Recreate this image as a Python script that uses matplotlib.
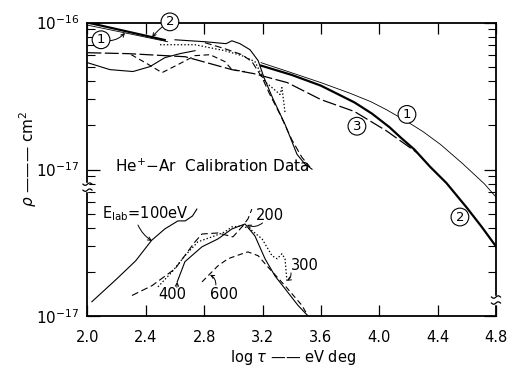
import matplotlib
matplotlib.use("Agg")
import matplotlib.pyplot as plt
import numpy as np
from matplotlib.ticker import FixedLocator, FixedFormatter, LogLocator, NullFormatter
from matplotlib.transforms import ScaledTranslation

plt.rcParams['font.family'] = ['DejaVu Sans']
plt.rcParams['mathtext.default'] = 'regular'
plt.rcParams['lines.scale_dashes'] = False

E17 = 1e-17  # all rho values below are in units of 1e-17 cm^2

# --- theory curves (upper scale) ---
th1_left_x = [2.0, 2.55]
th1_left_y = [9.6, 7.4]
th1_right_x = [3.19, 3.40, 3.60, 3.80, 3.94, 4.05, 4.19, 4.30, 4.42, 4.57, 4.72, 4.80]
th1_right_y = [5.33, 4.55, 3.90, 3.30, 2.90, 2.55, 2.12, 1.81, 1.48, 1.10, 0.80, 0.65]
th2_left_x = [2.0, 2.53]
th2_left_y = [10.0, 7.6]
th2_right_x = [3.19, 3.40, 3.60, 3.83, 3.95, 4.07, 4.15, 4.24, 4.35, 4.46, 4.60, 4.70, 4.80]
th2_right_y = [5.09, 4.40, 3.72, 2.86, 2.40, 1.94, 1.64, 1.37, 1.04, 0.81, 0.55, 0.41, 0.30]
th3_x = [2.0, 2.28, 2.67, 2.99, 3.14, 3.37, 3.60, 3.83, 4.05, 4.26]
th3_y = [6.23, 6.14, 5.85, 4.78, 4.49, 3.90, 2.99, 2.48, 1.83, 1.30]

# --- calibration data, upper scale ---
ca_x = [2.0, 2.154, 2.312, 2.428, 2.531, 2.634, 2.737]
ca_y = [5.33, 4.78, 4.64, 5.01, 5.77, 6.14, 6.43]
cb_x = [2.30, 2.408, 2.511, 2.62, 2.737, 2.84, 2.942, 2.99, 3.08]
cb_y = [6.04, 5.25, 4.56, 5.17, 5.95, 6.04, 5.42, 4.78, 4.64]
cc_x = [2.497, 2.737, 2.942, 3.059, 3.148, 3.217, 3.32, 3.333, 3.354]
cc_y = [7.06, 7.06, 6.43, 5.95, 5.42, 3.96, 3.24, 3.61, 2.45]
cd_x = [2.60, 2.805, 2.95, 2.99, 3.045, 3.114, 3.17, 3.21, 3.27, 3.354, 3.436, 3.49, 3.539]
cd_y = [7.63, 7.40, 7.18, 7.51, 7.18, 6.53, 5.50, 4.22, 3.05, 2.03, 1.27, 1.09, 1.005]
ce_x = [2.805, 2.942, 3.059, 3.127, 3.197, 3.25, 3.32, 3.40, 3.47, 3.525]
ce_y = [7.29, 6.63, 6.04, 5.42, 4.22, 3.24, 2.37, 1.60, 1.21, 1.04]

# --- calibration data, lower scale (E_lab curves) ---
e100_x = [2.03, 2.20, 2.33, 2.44, 2.53, 2.62, 2.67, 2.72, 2.75]
e100_y = [1.26, 1.80, 2.39, 3.30, 3.94, 4.47, 4.47, 4.83, 5.38]
e200_x = [2.305, 2.442, 2.60, 2.737, 2.785, 2.894, 2.997, 3.059, 3.10, 3.127]
e200_y = [1.39, 1.62, 2.11, 3.22, 3.64, 3.70, 3.48, 4.07, 4.61, 5.38]
e300_x = [2.483, 2.579, 2.668, 2.757, 2.853, 2.942, 2.99, 3.059, 3.114, 3.197,
          3.265, 3.30, 3.333, 3.354, 3.367]
e300_y = [1.59, 2.01, 2.59, 3.22, 3.48, 3.76, 4.07, 4.13, 3.94, 3.37,
          2.59, 2.47, 2.67, 2.47, 1.75]
e400_x = [2.615, 2.668, 2.785, 2.894, 2.99, 3.08, 3.148, 3.217, 3.285, 3.354, 3.443, 3.511]
e400_y = [1.72, 2.36, 2.98, 3.37, 3.94, 4.26, 3.53, 2.47, 1.89, 1.545, 1.19, 1.01]
e600_x = [2.785, 2.894, 2.963, 3.059, 3.10, 3.17, 3.23, 3.354, 3.47, 3.511]
e600_y = [1.72, 2.21, 2.47, 2.67, 2.75, 2.59, 2.21, 1.62, 1.19, 1.01]

xticks = [2.0, 2.4, 2.8, 3.2, 3.6, 4.0, 4.4, 4.8]
xticklabels = ['2.0', '2.4', '2.8', '3.2', '3.6', '4.0', '4.4', '4.8']


def yv(vals):
    return np.array(vals) * E17


fig = plt.figure(figsize=(5.08, 3.69), dpi=100)
ax = fig.add_axes([0.1722, 0.1423, 0.8041, 0.7967])
ax.set_yscale('log')
ax.set_xlim(2.0, 4.8)
ax.set_ylim(1e-18, 1e-16)

# lower panel shares x, shifted by a decade
axl = ax.twinx()
axl.set_yscale('log')
axl.set_ylim(1e-17, 1e-15)
axl.axis('off')

k = 'black'
ax.plot(th1_left_x, yv(th1_left_y), color=k, lw=0.6)
ax.plot(th1_right_x, yv(th1_right_y), color=k, lw=0.6)
ax.plot(th2_left_x, yv(th2_left_y), color=k, lw=1.6)
ax.plot(th2_right_x, yv(th2_right_y), color=k, lw=1.6)
ax.plot(th3_x, yv(th3_y), color=k, lw=0.9, dashes=(10, 2.5))

ax.plot(ca_x, yv(ca_y), color=k, lw=0.8)
ax.plot(cb_x, yv(cb_y), color=k, lw=0.8, dashes=(4, 2.5))
ax.plot(cc_x, yv(cc_y), color=k, lw=0.9, dashes=(1, 1.5))
ax.plot(cd_x, yv(cd_y), color=k, lw=0.8)
ax.plot(ce_x, yv(ce_y), color=k, lw=0.8, dashes=(5, 2.5))

axl.plot(e100_x, yv(e100_y), color=k, lw=0.8)
axl.plot(e200_x, yv(e200_y), color=k, lw=0.8, dashes=(5, 2.5))
axl.plot(e300_x, yv(e300_y), color=k, lw=0.9, dashes=(1, 1.5))
axl.plot(e400_x, yv(e400_y), color=k, lw=0.8)
axl.plot(e600_x, yv(e600_y), color=k, lw=0.8, dashes=(4, 2.5))

# ticks
ax.set_xticks(xticks)
ax.set_xticklabels(xticklabels, fontsize=10.5)
ax.tick_params(axis='x', which='major', direction='in', length=8, width=0.9,
               top=True, pad=10)
ax.yaxis.set_major_locator(FixedLocator([1e-18, 1e-17, 1e-16]))
ax.yaxis.set_major_formatter(FixedFormatter(['$10^{-17}$', '$10^{-17}$', '$10^{-16}$']))
ax.yaxis.set_minor_locator(LogLocator(base=10, subs=np.arange(2, 10)))
ax.yaxis.set_minor_formatter(NullFormatter())
ax.tick_params(axis='y', which='major', direction='in', length=9, width=0.9,
               right=True, pad=6, labelsize=11)
ax.tick_params(axis='y', which='minor', direction='in', length=6, width=0.8,
               right=True)
for s in ax.spines.values():
    s.set_linewidth(1.3)


# axis breaks
def brk(xa, ya):
    tr = fig.dpi_scale_trans + ScaledTranslation(xa, ya, ax.transAxes)
    ax.plot([0, 0], [-0.03, 0.03], color='white', lw=2.5, transform=tr,
            clip_on=False, zorder=5)
    t = np.linspace(-1, 1, 21)
    for off in (-0.03, 0.03):
        ax.plot(t * 0.045, off + 0.012 * np.sin(np.pi * t), color=k, lw=0.9,
                transform=tr, clip_on=False, zorder=6)


brk(0.0, 0.44)
brk(1.0, 0.056)

# labels
ax.text(2.19, 1.05 * E17, 'He$^{+}$$-$Ar  Calibration Data', fontsize=11,
        va='center', ha='left')
axl.text(2.10, 4.98 * E17, 'E$_{lab}$=100eV', fontsize=10.5, va='center', ha='left')
axl.text(3.25, 4.83 * E17, '200', fontsize=10.5, va='center', ha='center')
axl.text(3.492, 2.21 * E17, '300', fontsize=10.5, va='center', ha='center')
axl.text(2.58, 1.41 * E17, '400', fontsize=10.5, va='center', ha='center')
axl.text(2.936, 1.41 * E17, '600', fontsize=10.5, va='center', ha='center')

arr = dict(arrowstyle='->', lw=0.7, color=k, shrinkA=0, shrinkB=0, mutation_scale=6)
axl.annotate('', xy=(2.442, 3.27 * E17), xytext=(2.346, 4.19 * E17),
             arrowprops=dict(arr, connectionstyle='arc3,rad=0.15'))
axl.annotate('', xy=(3.093, 4.20 * E17), xytext=(3.20, 4.33 * E17),
             arrowprops=dict(arr, connectionstyle='arc3,rad=-0.3'))
axl.annotate('', xy=(3.367, 1.75 * E17), xytext=(3.395, 1.98 * E17),
             arrowprops=dict(arr, connectionstyle='arc3,rad=-0.3'))
axl.annotate('', xy=(2.615, 1.72 * E17), xytext=(2.613, 1.58 * E17),
             arrowprops=arr)
axl.annotate('', xy=(2.84, 1.92 * E17), xytext=(2.88, 1.64 * E17),
             arrowprops=dict(arr, connectionstyle='arc3,rad=0.3'))

circ = dict(boxstyle='circle,pad=0.18', fc='white', ec=k, lw=0.8)
ax.annotate('1', xy=(2.257, 8.5 * E17), xytext=(2.093, 7.63 * E17), fontsize=9.5,
            ha='center', va='center', bbox=circ,
            arrowprops=dict(arr, connectionstyle='arc3,rad=0.3'))
ax.annotate('2', xy=(2.443, 7.95 * E17), xytext=(2.565, 10.1 * E17), fontsize=9.5,
            ha='center', va='center', bbox=circ, annotation_clip=False,
            arrowprops=dict(arr, connectionstyle='arc3,rad=0.1'))
ax.text(4.19, 2.37 * E17, '1', fontsize=9.5, ha='center', va='center', bbox=circ)
ax.text(3.847, 1.97 * E17, '3', fontsize=9.5, ha='center', va='center', bbox=circ)
ax.text(4.553, 0.475 * E17, '2', fontsize=9.5, ha='center', va='center', bbox=circ)

fig.text(0.577, 0.030, r'log $\it{\tau}$ —— eV deg', fontsize=10.5, ha='center',
         va='center')
fig.text(0.055, 0.57, r'$\it{\rho}$ ——— cm$^2$', fontsize=11, ha='center',
         va='center', rotation=90)

fig.savefig('out.png', dpi=100)
